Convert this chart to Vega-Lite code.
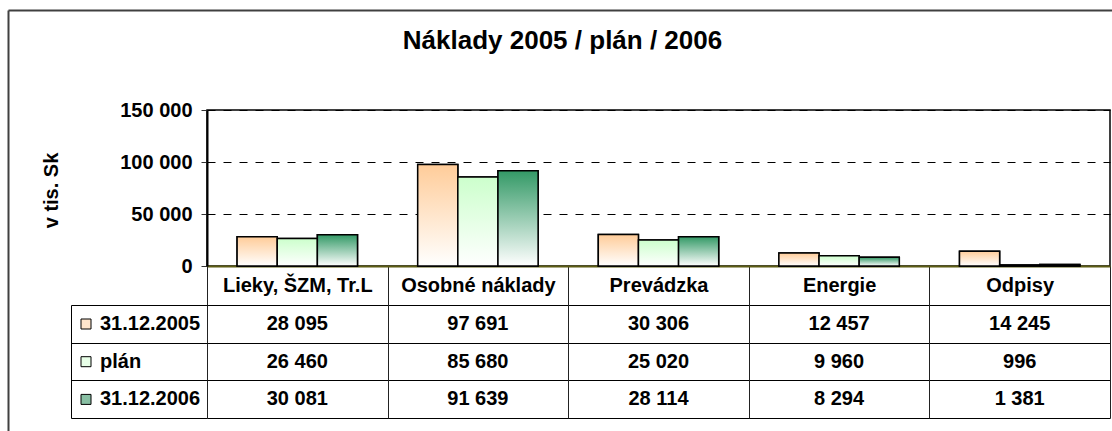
{
  "$schema": "https://vega.github.io/schema/vega-lite/v6.json",
  "width": 903,
  "height": 156,
  "autosize": {"type": "none"},
  "padding": {"left": 207, "top": 110, "right": 2, "bottom": 165},
  "background": "white",
  "title": {
    "text": "Náklady 2005 / plán / 2006",
    "fontSize": 26,
    "fontWeight": "bold",
    "font": "Liberation Sans",
    "color": "black",
    "anchor": "middle",
    "frame": "group",
    "dx": -96,
    "offset": -65,
    "baseline": "alphabetic"
  },
  "data": {
    "values": [
      {"cat": "Lieky, ŠZM, Tr.L", "series": "31.12.2005", "value": 28095},
      {"cat": "Lieky, ŠZM, Tr.L", "series": "plán", "value": 26460},
      {"cat": "Lieky, ŠZM, Tr.L", "series": "31.12.2006", "value": 30081},
      {"cat": "Osobné náklady", "series": "31.12.2005", "value": 97691},
      {"cat": "Osobné náklady", "series": "plán", "value": 85680},
      {"cat": "Osobné náklady", "series": "31.12.2006", "value": 91639},
      {"cat": "Prevádzka", "series": "31.12.2005", "value": 30306},
      {"cat": "Prevádzka", "series": "plán", "value": 25020},
      {"cat": "Prevádzka", "series": "31.12.2006", "value": 28114},
      {"cat": "Energie", "series": "31.12.2005", "value": 12457},
      {"cat": "Energie", "series": "plán", "value": 9960},
      {"cat": "Energie", "series": "31.12.2006", "value": 8294},
      {"cat": "Odpisy", "series": "31.12.2005", "value": 14245},
      {"cat": "Odpisy", "series": "plán", "value": 996},
      {"cat": "Odpisy", "series": "31.12.2006", "value": 1381}
    ]
  },
  "resolve": {"scale": {"x": "independent", "y": "independent"}},
  "layer": [
    {
      "encoding": {
        "x": {
          "field": "cat", "type": "nominal", "sort": null,
          "scale": {"type": "band", "domain": ["Lieky, ŠZM, Tr.L", "Osobné náklady", "Prevádzka", "Energie", "Odpisy"], "paddingInner": 0, "paddingOuter": 0},
          "axis": {
            "orient": "bottom", "title": null,
            "domainColor": "#5c5c14", "domainWidth": 2,
            "tickBand": "extent", "tickSize": 152, "tickColor": "#222222", "tickWidth": 1,
            "labelFontSize": 20, "labelFontWeight": "bold", "labelFont": "Liberation Sans", "labelColor": "black",
            "labelAngle": 0, "labelBaseline": "middle", "labelPadding": -133, "labelLimit": 0,
            "labelOverlap": false, "labelFlush": false, "grid": false
          }
        },
        "xOffset": {
          "field": "series", "type": "nominal", "sort": null,
          "scale": {"domain": ["31.12.2005", "plán", "31.12.2006"], "paddingInner": 0, "paddingOuter": 0.75}
        },
        "y": {
          "field": "value", "type": "quantitative",
          "scale": {"domain": [0, 150000], "nice": false},
          "axis": {
            "orient": "left", "values": [0, 50000, 100000, 150000], "format": ",d",
            "grid": true, "gridColor": "black", "gridDash": [8, 8], "gridWidth": 1,
            "domainColor": "black", "domainWidth": 2,
            "tickSize": 6, "tickColor": "#333333", "labelPadding": 9,
            "labelFontSize": 20, "labelFontWeight": "bold", "labelFont": "Liberation Sans", "labelColor": "black",
            "labelOverlap": false, "labelFlush": false,
            "title": "v tis. Sk", "titleFontSize": 20, "titleFontWeight": "bold", "titleFont": "Liberation Sans", "titleColor": "black",
            "titleAngle": -90, "titleX": -150, "titleY": 80, "titleAlign": "center", "titleBaseline": "alphabetic"
          }
        }
      },
      "layer": [
        {
          "mark": {"type": "bar", "stroke": "black", "strokeWidth": 1.5},
          "encoding": {
            "fill": {
              "field": "series", "type": "nominal",
              "scale": {"domain": ["31.12.2005", "plán", "31.12.2006"], "range": ["#FFE5CC", "#E8FFE8", "#88BFA3"]},
              "legend": {
                "orient": "none", "legendX": -131, "legendY": 204, "direction": "vertical", "title": null,
                "padding": 0, "symbolType": "square", "symbolSize": 100,
                "symbolStrokeColor": "black", "symbolStrokeWidth": 1,
                "labelFontSize": 20, "labelFontWeight": "bold", "labelFont": "Liberation Sans", "labelColor": "black",
                "labelOffset": 4, "rowPadding": 17.7, "labelLimit": 0
              }
            }
          }
        },
        {
          "mark": {"type": "bar", "stroke": "black", "strokeWidth": 1.5},
          "encoding": {
            "fill": {
              "condition": [
                {"test": "datum.series === '31.12.2005'", "value": {"gradient": "linear", "x1": 0, "y1": 0, "x2": 0, "y2": 1, "stops": [{"offset": 0, "color": "#FFCC99"}, {"offset": 1, "color": "#FFFFFF"}]}},
                {"test": "datum.series === 'plán'", "value": {"gradient": "linear", "x1": 0, "y1": 0, "x2": 0, "y2": 1, "stops": [{"offset": 0, "color": "#CCFFCC"}, {"offset": 1, "color": "#FFFFFF"}]}}
              ],
              "value": {"gradient": "linear", "x1": 0, "y1": 0, "x2": 0, "y2": 1, "stops": [{"offset": 0, "color": "#339966"}, {"offset": 1, "color": "#FFFFFF"}]}
            }
          }
        }
      ]
    },
    {
      "mark": {"type": "text", "fontSize": 20, "fontWeight": "bold", "font": "Liberation Sans", "color": "black", "baseline": "middle", "align": "center"},
      "encoding": {
        "x": {
          "field": "cat", "type": "nominal", "sort": null,
          "scale": {"type": "band", "domain": ["Lieky, ŠZM, Tr.L", "Osobné náklady", "Prevádzka", "Energie", "Odpisy"], "paddingInner": 0, "paddingOuter": 0},
          "axis": null
        },
        "y": {
          "field": "series", "type": "nominal", "sort": null,
          "scale": {"type": "band", "domain": ["31.12.2005", "plán", "31.12.2006"], "range": [195, 308], "paddingInner": 0, "paddingOuter": 0},
          "axis": {
            "orient": "left", "offset": 136, "tickSize": -136, "tickBand": "extent",
            "tickColor": "black", "tickWidth": 1,
            "domain": true, "domainColor": "black", "domainWidth": 1,
            "labels": false, "grid": true, "gridColor": "black", "gridWidth": 1, "gridDash": [],
            "title": null
          }
        },
        "text": {"field": "value", "type": "quantitative", "format": ",d"}
      }
    },
    {
      "mark": {"type": "point", "opacity": 0},
      "encoding": {
        "x": {
          "datum": 0, "type": "quantitative",
          "scale": {"domain": [0, 1], "range": [-199, 905]},
          "axis": {"orient": "top", "offset": 100, "title": null, "labels": false, "ticks": false, "grid": false, "domain": true, "domainColor": "#404040", "domainWidth": 2}
        },
        "y": {
          "datum": 0, "type": "quantitative",
          "scale": {"domain": [0, 1], "range": [321, -100]},
          "axis": {"orient": "left", "offset": 199, "title": null, "labels": false, "ticks": false, "grid": false, "domain": true, "domainColor": "#404040", "domainWidth": 2}
        }
      }
    }
  ],
  "config": {
    "font": "Liberation Sans",
    "view": {"stroke": "black", "strokeWidth": 1.5},
    "locale": {"number": {"decimal": ",", "thousands": " ", "grouping": [3], "currency": ["", ""]}}
  }
}
